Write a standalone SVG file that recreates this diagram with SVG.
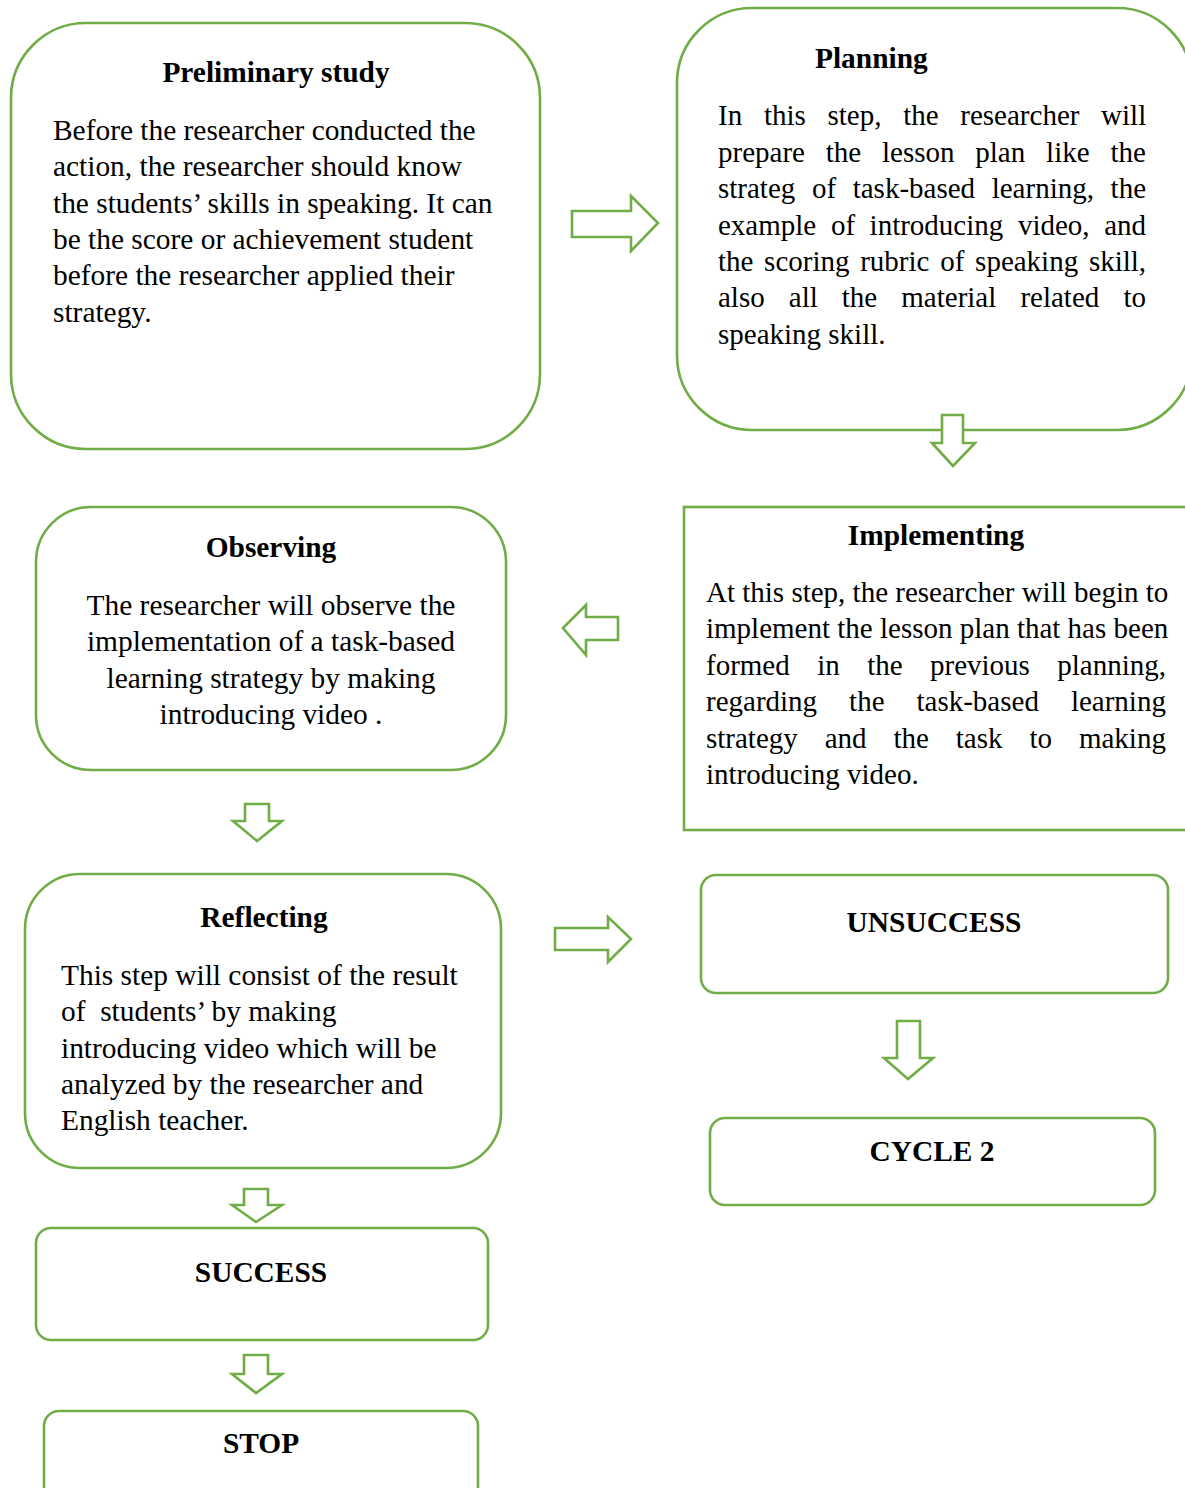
<svg xmlns="http://www.w3.org/2000/svg" width="1185" height="1488" viewBox="0 0 1185 1488">
<style>
.box{fill:#fff;stroke:#70AD47;stroke-width:2.6}
.arr{fill:#fff;stroke:#70AD47;stroke-width:2.6;stroke-linejoin:miter}
.t{font-family:"Liberation Serif","Times New Roman",serif;font-size:29px;fill:#000}
.l{font-size:29.4px}
.b{font-family:"Liberation Serif","Times New Roman",serif;font-size:29.4px;font-weight:bold;fill:#000}
.c{text-anchor:middle}
</style>
<rect width="1185" height="1488" fill="#fff"/>
<g id="preliminary">
<rect class="box" x="11" y="23" width="529" height="426" rx="75" ry="75"/>
<text class="b c" x="276" y="82">Preliminary study</text>
<text class="t l" x="53" y="140">Before the researcher conducted the</text>
<text class="t l" x="53" y="176">action, the researcher should know</text>
<text class="t l" x="53" y="213">the students’ skills in speaking. It can</text>
<text class="t l" x="53" y="249">be the score or achievement student</text>
<text class="t l" x="53" y="285">before the researcher applied their</text>
<text class="t l" x="53" y="322">strategy.</text>
</g>
<g id="planning">
<rect class="box" x="677" y="8" width="515" height="422" rx="75" ry="75"/>
<text class="b" x="815" y="68">Planning</text>
<text class="t" y="125"><tspan x="718">In</tspan><tspan x="763.9">this</tspan><tspan x="827.5">step,</tspan><tspan x="903.2">the</tspan><tspan x="960.3">researcher</tspan><tspan x="1101.1">will</tspan></text>
<text class="t" y="162"><tspan x="718">prepare</tspan><tspan x="825.8">the</tspan><tspan x="882">lesson</tspan><tspan x="975.3">plan</tspan><tspan x="1046.1">like</tspan><tspan x="1110.4">the</tspan></text>
<text class="t" y="198"><tspan x="718">strateg</tspan><tspan x="811.9">of</tspan><tspan x="852.7">task-based</tspan><tspan x="991.7">learning,</tspan><tspan x="1110.6">the</tspan></text>
<text class="t" y="235"><tspan x="718">example</tspan><tspan x="830.9">of</tspan><tspan x="869.6">introducing</tspan><tspan x="1017.9">video,</tspan><tspan x="1104.2">and</tspan></text>
<text class="t" y="271"><tspan x="718">the</tspan><tspan x="764.1">scoring</tspan><tspan x="860.2">rubric</tspan><tspan x="940.2">of</tspan><tspan x="975.1">speaking</tspan><tspan x="1088.9">skill,</tspan></text>
<text class="t" y="307"><tspan x="718">also</tspan><tspan x="788.8">all</tspan><tspan x="841.8">the</tspan><tspan x="901.3">material</tspan><tspan x="1020.4">related</tspan><tspan x="1123.4">to</tspan></text>
<text class="t" x="718" y="344">speaking skill.</text>
</g>
<g id="implementing">
<rect class="box" x="684" y="507" width="520" height="323"/>
<text class="b c" x="936" y="545">Implementing</text>
<text class="t" x="706" y="602">At this step, the researcher will begin to</text>
<text class="t" x="706" y="638">implement the lesson plan that has been</text>
<text class="t" y="675"><tspan x="706">formed</tspan><tspan x="817.2">in</tspan><tspan x="867.2">the</tspan><tspan x="930">previous</tspan><tspan x="1057.3">planning,</tspan></text>
<text class="t" y="711"><tspan x="706">regarding</tspan><tspan x="849.1">the</tspan><tspan x="916.5">task-based</tspan><tspan x="1070.9">learning</tspan></text>
<text class="t" y="748"><tspan x="706">strategy</tspan><tspan x="824.7">and</tspan><tspan x="893.5">the</tspan><tspan x="955.8">task</tspan><tspan x="1029.4">to</tspan><tspan x="1078.9">making</tspan></text>
<text class="t" x="706" y="784">introducing video.</text>
</g>
<g id="observing">
<rect class="box" x="36" y="507" width="470" height="263" rx="55" ry="55"/>
<text class="b c" x="271" y="557">Observing</text>
<text class="t l c" x="271" y="615">The researcher will observe the</text>
<text class="t l c" x="271" y="651">implementation of a task-based</text>
<text class="t l c" x="271" y="688">learning strategy by making</text>
<text class="t l c" x="271" y="724">introducing video .</text>
</g>
<g id="reflecting">
<rect class="box" x="25" y="874" width="476" height="294" rx="55" ry="55"/>
<text class="b c" x="264" y="927">Reflecting</text>
<text class="t l" x="61" y="985">This step will consist of the result</text>
<text class="t l" x="61" y="1021" xml:space="preserve">of  students’ by making</text>
<text class="t l" x="61" y="1058">introducing video which will be</text>
<text class="t l" x="61" y="1094">analyzed by the researcher and</text>
<text class="t l" x="61" y="1130">English teacher.</text>
</g>
<g id="success">
<rect class="box" x="36" y="1228" width="452" height="112" rx="15" ry="15"/>
<text class="b c" x="261" y="1282">SUCCESS</text>
</g>
<g id="stop">
<rect class="box" x="44" y="1411" width="434" height="100" rx="15" ry="15"/>
<text class="b c" x="261" y="1453">STOP</text>
</g>
<g id="unsuccess">
<rect class="box" x="701" y="875" width="467" height="118" rx="15" ry="15"/>
<text class="b c" x="934" y="932">UNSUCCESS</text>
</g>
<g id="cycle2">
<rect class="box" x="710" y="1118" width="445" height="87" rx="15" ry="15"/>
<text class="b c" x="932" y="1161">CYCLE 2</text>
</g>
<g id="connectors">
<polygon class="arr" points="572,211 631,211 631,196 658,223 631,251 631,237 572,237"/>
<polygon class="arr" points="942,415 963,415 963,443 975,443 953,466 932,443 942,443"/>
<polygon class="arr" points="563,628 586,605 586,617 618,617 618,640 586,640 586,655"/>
<polygon class="arr" points="245,804 269,804 269,821 282,821 257,841 233,821 245,821"/>
<polygon class="arr" points="555,928 608,928 608,917 631,939 608,962 608,950 555,950"/>
<polygon class="arr" points="897,1021 920,1021 920,1058 933,1058 908,1079 884,1058 897,1058"/>
<polygon class="arr" points="244,1189 268,1189 268,1205 282,1205 256,1222 232,1205 244,1205"/>
<polygon class="arr" points="244,1355 268,1355 268,1374 282,1374 256,1393 232,1374 244,1374"/>
</g>
</svg>
